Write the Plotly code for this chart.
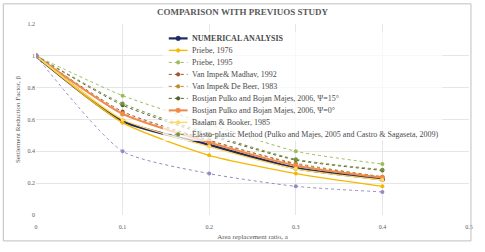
import plotly.graph_objects as go

x_ratio = [0, 0.1, 0.2, 0.3, 0.4]

numerical = [1.0, 0.59, 0.44, 0.295, 0.225]
priebe_1976 = [1.0, 0.58, 0.375, 0.26, 0.18]
priebe_1995 = [1.0, 0.75, 0.57, 0.40, 0.32]
van_impe_madhav = [1.0, 0.65, 0.47, 0.32, 0.24]
van_impe_debeer = [1.0, 0.64, 0.465, 0.325, 0.24]
pulko_15 = [1.0, 0.69, 0.50, 0.345, 0.28]
pulko_0 = [1.0, 0.635, 0.455, 0.31, 0.235]
balaam_booker = [1.0, 0.60, 0.43, 0.29, 0.22]
elasto_plastic = [1.0, 0.70, 0.51, 0.35, 0.285]
other_method = [1.0, 0.40, 0.26, 0.18, 0.145]

series = [
    ("<b>NUMERICAL ANALYSIS</b>", numerical, "#1F2A60", "solid", 2.6, 5, True),
    ("Priebe, 1976", priebe_1976, "#F5B800", "solid", 1.4, 4, True),
    ("Priebe, 1995", priebe_1995, "#9BBB59", "dot", 1.0, 4, True),
    ("Van Impe& Madhav, 1992", van_impe_madhav, "#A0522D", "dot", 1.0, 4, True),
    ("Van Impe& De Beer, 1983", van_impe_debeer, "#C08A2C", "dot", 1.0, 4, True),
    ("Bostjan Pulko and Bojan Majes, 2006, Ψ=15°", pulko_15, "#4F6228", "dot", 1.0, 4, True),
    ("Bostjan Pulko and Bojan Majes, 2006, Ψ=0°", pulko_0, "#F08A4B", "solid", 2.0, 5, True),
    ("Baalam & Booker, 1985", balaam_booker, "#FFD966", "solid", 1.4, 4, True),
    ("Elasto-plastic Method (Pulko and Majes, 2005 and Castro & Sagaseta, 2009)", elasto_plastic, "#77933C", "dot", 1.0, 4, True),
    ("Other", other_method, "#9A88C4", "dot", 1.0, 4, False),
]

W, H = 485, 252
ML, MR, MT, MB = 36, 12, 24, 29
PW, PH = W - ML - MR, H - MT - MB


def px_x(px):
    return (px - ML) / PW


def px_y(py):
    return (H - MB - py) / PH


serif = "Liberation Serif"
fig = go.Figure()
for name, vals, color, dash, width, msize, show in series:
    fig.add_trace(go.Scatter(
        x=x_ratio, y=vals, name=name, mode="lines+markers",
        line=dict(color=color, width=width, dash=dash, shape="spline", smoothing=0.6),
        marker=dict(color=color, size=msize),
        showlegend=False,
    ))

# hand-built compact legend (Plotly's legend rows are too tall)
shapes = [dict(type="rect", xref="paper", yref="paper",
               x0=px_x(164), x1=px_x(446), y0=px_y(146), y1=px_y(32),
               fillcolor="rgba(255,255,255,0.7)", line=dict(width=0), layer="above")]
annotations = []
row0, row_gap = 39, 12.5
legend_items = [s for s in series if s[6]]
for i, (name, vals, color, dash, width, msize, show) in enumerate(legend_items):
    yy = px_y(row0 + i * row_gap)
    shapes.append(dict(type="line", xref="paper", yref="paper",
                       x0=px_x(170), x1=px_x(189), y0=yy, y1=yy,
                       line=dict(color=color, width=min(width, 2.2), dash=dash), layer="above"))
    r = 2.3 if msize >= 5 else 1.8
    shapes.append(dict(type="circle", xref="paper", yref="paper",
                       xsizemode="pixel", ysizemode="pixel",
                       xanchor=px_x(179.5), yanchor=yy,
                       x0=-r, x1=r, y0=-r, y1=r,
                       fillcolor=color, line=dict(color=color, width=0.5), layer="above"))
    annotations.append(dict(text=name, xref="paper", yref="paper",
                            x=px_x(191), y=yy, xanchor="left", yanchor="middle",
                            showarrow=False,
                            font=dict(family=serif, size=8, color="#4A4A4A")))

shapes.append(dict(type="rect", xref="paper", yref="paper",
                   x0=px_x(3), x1=px_x(475), y0=px_y(250), y1=px_y(3),
                   line=dict(color="#BFBFBF", width=1), layer="above"))

fig.update_layout(
    width=W, height=H,
    margin=dict(l=ML, r=MR, t=MT, b=MB),
    paper_bgcolor="white", plot_bgcolor="white",
    title=dict(text="<b>COMPARISON WITH PREVIUOS STUDY</b>",
               font=dict(family=serif, size=9, color="#595959"),
               x=0.5, xanchor="center", y=1 - 12 / H, yanchor="middle"),
    xaxis=dict(range=[0, 0.5], tickvals=[0, 0.1, 0.2, 0.3, 0.4, 0.5],
               ticktext=["0", "0.1", "0.2", "0.3", "0.4", "0.5"],
               showgrid=True, gridcolor="#E6E6E6", gridwidth=1, zeroline=False,
               showline=False, ticks="", ticklabelstandoff=7,
               tickfont=dict(family=serif, size=6, color="#595959"),
               title=dict(text="Area replacement ratio, a",
                          font=dict(family=serif, size=7, color="#595959"),
                          standoff=5)),
    yaxis=dict(range=[0, 1.2], tickvals=[0, 0.2, 0.4, 0.6, 0.8, 1.0, 1.2],
               ticktext=["0", "0.2", "0.4", "0.6", "0.8", "1", "1.2"],
               showgrid=True, gridcolor="#E6E6E6", gridwidth=1, zeroline=False,
               showline=False, ticks="",
               tickfont=dict(family=serif, size=6, color="#595959"),
               title=dict(text="Settlement Reduction Factor, β",
                          font=dict(family=serif, size=7, color="#595959"),
                          standoff=6)),
    showlegend=False,
    shapes=shapes,
    annotations=annotations,
)

fig.write_html("out.html")
